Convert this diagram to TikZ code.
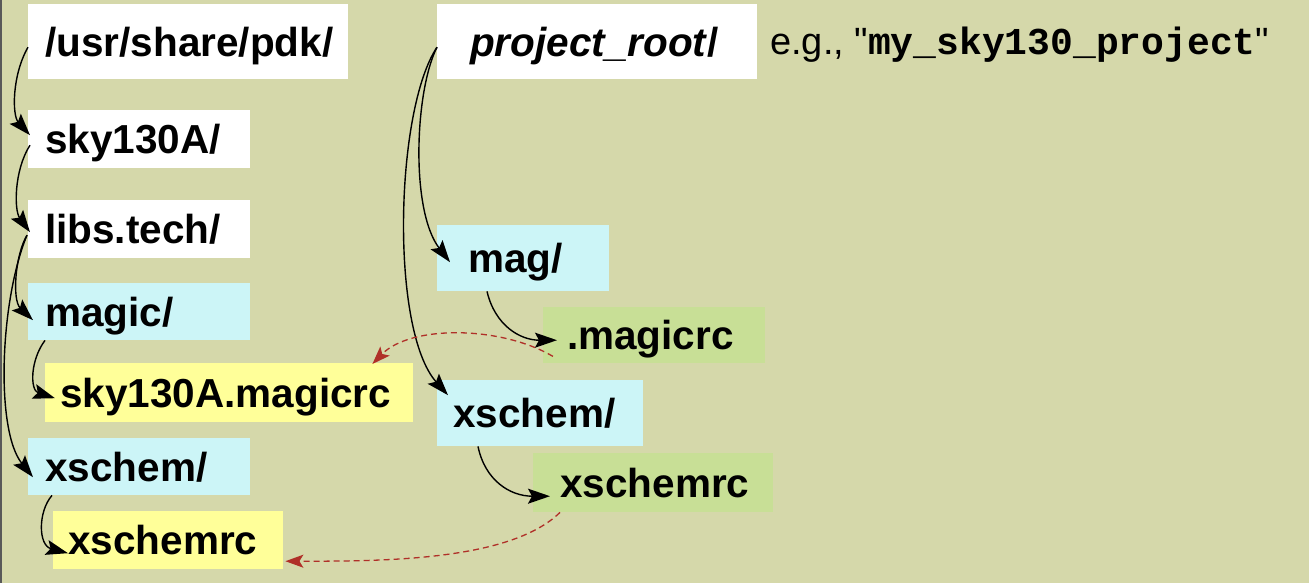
\documentclass[tikz,border=0pt]{standalone}
\usepackage{fontspec}
\setmainfont{Liberation Sans}
\newfontfamily\plainsans[Ligatures=TeXOff]{Liberation Sans}
\newfontfamily\monob{Liberation Mono}
\usetikzlibrary{arrows.meta,calc}
\definecolor{bgc}{HTML}{D5D8AA}
\definecolor{cyanbox}{HTML}{CCF5F7}
\definecolor{yelbox}{HTML}{FFFF99}
\definecolor{grnbox}{HTML}{C8DF96}
\definecolor{dashred}{HTML}{B03028}
\begin{document}
\begin{tikzpicture}[x=1pt,y=1pt,
  fbox/.style n args={3}{anchor=north west, inner sep=0pt, minimum width=#1, minimum height=#2,
     text width=#1-2*#3, align=left, text height=29pt, text depth=0pt,
     font=\fontsize{40.5}{44}\selectfont\bfseries},
  link/.style={line width=1.4pt, -{Stealth[length=22pt,width=15pt,inset=4pt]}},
  reflink/.style={line width=1.3pt, dashred, dash pattern=on 6pt off 4pt, -{Stealth[length=18pt,width=13pt,inset=4pt]}}
]
\useasboundingbox (0,0) rectangle (1309,-583);
\fill[bgc] (0,0) rectangle (1309,-583);
\draw[line width=1.5pt, black!65] (1,0) -- (1,-583);

% left tree
\node[fbox={320}{75}{17}, fill=white] (pdk) at (28,-4) {/usr/share/pdk/};
\node[fbox={222}{58}{17}, fill=white] (sky) at (28,-110) {sky130A/};
\node[fbox={222}{58}{17}, fill=white] (libs) at (28,-200) {libs.tech/};
\node[fbox={222}{57}{17}, fill=cyanbox] (magic) at (28,-283) {magic/};
\node[fbox={368}{59}{15}, fill=yelbox] (smrc) at (45,-363) {sky130A.magicrc};
\node[fbox={222}{57}{17}, fill=cyanbox] (xschL) at (28,-438) {xschem/};
\node[fbox={230}{58}{15}, fill=yelbox] (xrcL) at (53,-511) {xschemrc};

% right tree
\node[fbox={320}{75}{33}, fill=white] (proj) at (437,-4) {\textit{project\_root}/};
\node[anchor=base west, inner sep=0pt, font=\fontsize{38}{44}\selectfont\plainsans] (eg) at (770,-55)
  {e.g., "{\monob\bfseries my\_sky130\_project}"};
\node[fbox={172}{66}{31}, fill=cyanbox] (mag) at (437,-225) {mag/};
\node[fbox={222}{56}{24}, fill=grnbox] (mrc) at (543,-307) {.magicrc};
\node[fbox={206}{66}{16}, fill=cyanbox] (xschP) at (437,-380) {xschem/};
\node[fbox={240}{59}{27}, fill=grnbox] (xrcP) at (533,-453) {xschemrc};

% connectors left
\draw[link] ($(pdk.west)+(0,-5.5)$) .. controls +(-16,-28) and +(-18,20) .. ($(sky.west)+(2,4)$);
\draw[link] ($(sky.west)+(2,-6)$) .. controls +(-16,-25) and +(-16,22) .. ($(libs.west)+(2,-3)$);
\draw[link] ($(libs.west)+(-1,-6)$) .. controls +(-12,-20) and +(-21,20) .. ($(magic.west)+(5,-8.5)$);
\draw[link] ($(libs.west)+(-1,-6)$) .. controls +(-27,-65) and +(-38,47) .. ($(xschL.west)+(5,-10.5)$);
\draw[link] ($(magic.south west)+(17,0)$) .. controls +(-15,-20) and +(-25,8) .. ($(smrc.west)+(10,-5.5)$);
\draw[link] ($(xschL.south west)+(24,0)$) .. controls +(-14,-16) and +(-30,8) .. ($(xrcL.west)+(15,-13)$);

% connectors right
\draw[link] ($(proj.west)+(0,-5.5)$) .. controls +(-22,-43) and +(-40,52) .. ($(mag.west)+(13,-4)$);
\draw[link] ($(proj.west)+(0,-5.5)$) .. controls +(-42,-63) and +(-58,65) .. ($(xschP.west)+(11,18)$);
\draw[link] ($(mag.south west)+(50,0)$) .. controls +(8,-34) and +(-37,0) .. ($(mrc.west)+(14,-5)$);
\draw[link] ($(xschP.south west)+(41,0)$) .. controls +(7,-34) and +(-40,0) .. ($(xrcP.west)+(17,-13.5)$);

% config references
\draw[reflink] ($(mrc.south west)+(10,7)$) .. controls +(-53,31) and +(38,39) .. ($(smrc.north east)+(-41,-1)$);
\draw[reflink] ($(xrcP.south west)+(27,0)$) .. controls +(-50,-49) and +(95,0) .. ($(xrcL.east)+(2,-21)$);
\end{tikzpicture}
\end{document}
